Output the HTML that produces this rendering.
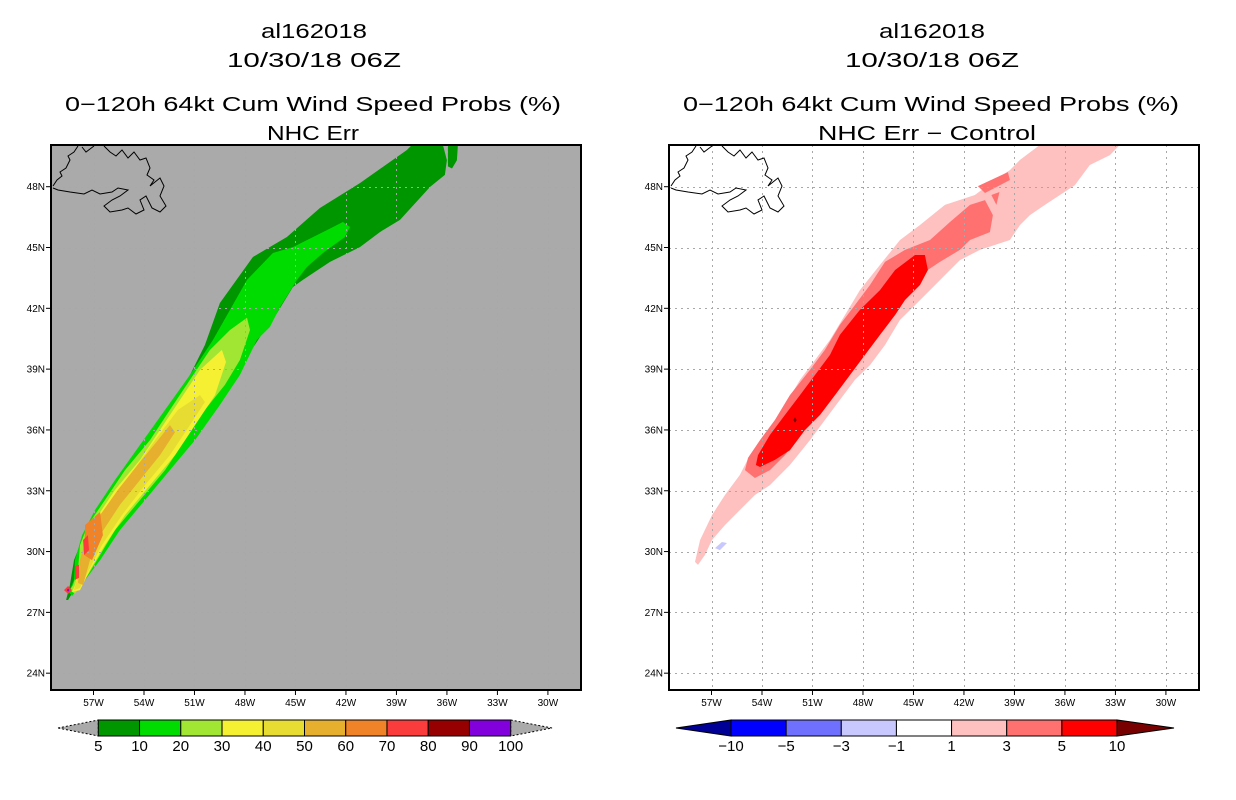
<!DOCTYPE html>
<html><head><meta charset="utf-8"><style>
html,body{margin:0;padding:0;background:#fff;}
svg{display:block;font-family:"Liberation Sans",sans-serif;}
</style></head><body>
<svg id="chart" width="1236" height="800" viewBox="0 0 1236 800" xmlns="http://www.w3.org/2000/svg">
<g id="titles">
<text x="314" y="38" font-size="20" text-anchor="middle" textLength="106" lengthAdjust="spacingAndGlyphs">al162018</text>
<text x="314" y="67" font-size="20" text-anchor="middle" textLength="174" lengthAdjust="spacingAndGlyphs">10/30/18 06Z</text>
<text x="313" y="111" font-size="20" text-anchor="middle" textLength="496" lengthAdjust="spacingAndGlyphs">0−120h 64kt Cum Wind Speed Probs (%)</text>
<text x="313" y="140" font-size="20" text-anchor="middle" textLength="92" lengthAdjust="spacingAndGlyphs">NHC Err</text>
<text x="932" y="38" font-size="20" text-anchor="middle" textLength="106" lengthAdjust="spacingAndGlyphs">al162018</text>
<text x="932" y="67" font-size="20" text-anchor="middle" textLength="174" lengthAdjust="spacingAndGlyphs">10/30/18 06Z</text>
<text x="931" y="111" font-size="20" text-anchor="middle" textLength="496" lengthAdjust="spacingAndGlyphs">0−120h 64kt Cum Wind Speed Probs (%)</text>
<text x="927" y="140" font-size="20" text-anchor="middle" textLength="218" lengthAdjust="spacingAndGlyphs">NHC Err − Control</text>
</g>
</svg>
<script>
// ---- data ----
const latTicks = [48,45,42,39,36,33,30,27,24];
const latLabels = ["48N","45N","42N","39N","36N","33N","30N","27N","24N"];
const lonTicks = [-57,-54,-51,-48,-45,-42,-39,-36,-33,-30];
const lonLabels = ["57W","54W","51W","48W","45W","42W","39W","36W","33W","30W"];

const leftLevels = ["5","10","20","30","40","50","60","70","80","90","100"];
const leftColors = ["#009600","#00dc00","#a0e632","#f5f032","#e6dc32","#e6af2d","#f08228","#fa3c3c","#960000","#8200dc"];
const rightLevels = ["−10","−5","−3","−1","1","3","5","10"];
const rightColors = ["#000096","#0000ff","#7070ff","#c8c8ff","#ffffff","#ffc0c0","#ff7070","#ff0000","#780000"];

// Left panel contour polygons [lon,lat]
const p05 = [[-58.63,27.61],[-58.40,28.35],[-58.16,29.58],[-57.68,30.57],[-56.79,31.80],[-55.72,33.28],[-54.53,34.76],[-53.05,36.49],[-51.86,37.48],[-51.56,38.22],[-50.38,40.19],[-49.49,42.26],[-47.53,44.53],[-45.51,45.52],[-43.55,46.95],[-41.17,48.18],[-38.38,49.81],[-38.08,50.06],[-36.24,50.06],[-36.0,49.31],[-36.12,48.58],[-37.0,47.99],[-38.79,46.36],[-39.98,45.76],[-41.17,45.02],[-42.95,44.29],[-44.56,43.40],[-45.15,43.05],[-46.34,41.43],[-47.11,40.58],[-48.59,38.71],[-50.08,37.23],[-51.56,35.50],[-53.05,34.02],[-54.53,32.54],[-56.02,31.06],[-56.91,29.83],[-57.80,28.60],[-58.51,27.61]];
const p05b = [[-35.94,50.06],[-35.35,50.06],[-35.41,49.3],[-35.7,48.9],[-35.94,49.0]];
const p10 = [[-42.18,46.26],[-41.76,46.01],[-42.06,45.52],[-43.37,44.73],[-44.32,44.04],[-44.91,43.40],[-45.92,42.06],[-46.52,41.08],[-47.29,40.44],[-48.30,38.71],[-49.49,37.23],[-50.97,35.50],[-52.46,34.02],[-53.94,32.54],[-55.43,31.06],[-56.61,29.58],[-57.50,28.60],[-58.28,27.81],[-58.46,28.0],[-58.16,28.60],[-58.10,29.58],[-57.68,30.81],[-56.91,32.05],[-55.72,33.53],[-54.24,35.26],[-52.75,36.99],[-51.27,38.71],[-49.90,40.44],[-47.88,43.40],[-46.34,44.73],[-45.15,45.02],[-43.13,45.86]];
const p20 = [[-47.88,41.53],[-47.70,40.93],[-48.30,39.45],[-49.19,38.22],[-50.38,36.99],[-51.56,35.50],[-52.75,34.02],[-54.24,32.54],[-55.72,31.06],[-56.61,29.83],[-57.33,28.84],[-58.10,27.91],[-58.4,28.1],[-58.22,28.35],[-57.92,29.09],[-57.80,30.32],[-57.33,31.31],[-56.32,32.54],[-55.13,34.02],[-53.64,35.50],[-52.46,36.99],[-51.27,38.47],[-50.08,39.95],[-48.89,40.93]];
const p30 = [[-49.37,39.95],[-49.13,39.35],[-49.78,37.72],[-50.97,36.24],[-52.16,34.76],[-53.64,33.28],[-55.13,31.80],[-56.32,30.32],[-57.21,29.09],[-57.80,28.10],[-58.28,28.0],[-58.10,28.35],[-57.80,29.34],[-57.50,30.57],[-56.91,31.56],[-55.72,33.04],[-54.24,34.52],[-53.05,36.0],[-51.86,37.48],[-50.67,38.96]];
const p40 = [[-50.67,37.72],[-50.38,37.38],[-51.27,36.24],[-52.46,34.76],[-53.94,33.28],[-55.31,31.80],[-56.50,30.32],[-57.33,28.99],[-57.80,28.2],[-58.16,28.1],[-57.92,28.84],[-57.56,30.07],[-56.91,31.31],[-55.72,32.79],[-54.53,34.12],[-53.34,35.50],[-51.98,36.99]];
const p50 = [[-52.46,36.24],[-52.16,35.89],[-53.05,34.76],[-54.24,33.53],[-55.43,32.30],[-56.61,30.81],[-57.21,29.58],[-57.62,28.35],[-57.92,28.45],[-57.80,29.58],[-57.39,30.81],[-56.61,31.80],[-55.55,33.04],[-54.24,34.42],[-53.17,35.50]];
const p60 = [[-57.50,31.31],[-56.61,31.95],[-56.44,30.81],[-57.09,29.58],[-57.56,29.83]];
const p70a = [[-57.62,30.57],[-57.33,30.81],[-57.27,30.07],[-57.56,29.83]];
const p70b = [[-58.10,29.29],[-57.86,29.34],[-57.86,28.70],[-58.10,28.60]];
const p70c = [[-58.51,28.30],[-58.28,28.10],[-58.51,27.91],[-58.75,28.10]];
const p90 = [[-58.51,28.18],[-58.44,28.10],[-58.51,28.02],[-58.58,28.10]];

// Right panel contour polygons [lon,lat]
const r1 = [[-57.98,29.49],[-57.68,30.57],[-56.97,31.80],[-56.20,32.79],[-55.31,33.78],[-54.71,34.76],[-53.53,35.99],[-52.63,37.23],[-51.74,38.47],[-50.85,39.45],[-49.96,40.44],[-49.07,41.67],[-48.18,42.90],[-46.99,44.14],[-45.80,45.37],[-44.61,46.11],[-43.13,47.10],[-41.35,47.59],[-40.16,48.33],[-39.27,48.82],[-38.67,49.32],[-37.49,50.06],[-32.74,50.06],[-33.33,49.56],[-34.52,49.07],[-35.41,48.08],[-36.30,47.59],[-37.19,47.10],[-38.08,46.60],[-38.67,46.11],[-39.27,45.37],[-41.05,44.88],[-42.24,44.38],[-43.13,43.64],[-44.02,42.90],[-44.91,42.16],[-45.80,41.43],[-46.69,40.19],[-47.58,39.20],[-48.48,38.47],[-49.37,37.48],[-50.26,36.49],[-51.15,35.50],[-52.34,34.27],[-53.53,33.28],[-54.42,32.79],[-55.31,32.05],[-56.20,31.31],[-56.97,30.57],[-57.39,29.83],[-57.80,29.34]];
const r3 = [[-55.01,34.02],[-54.83,34.62],[-54.12,35.50],[-53.23,36.49],[-52.34,37.72],[-51.15,38.96],[-50.26,39.95],[-49.37,41.18],[-48.48,42.16],[-47.58,43.15],[-46.69,44.29],[-45.50,44.88],[-44.02,45.37],[-42.83,46.26],[-41.64,47.10],[-40.75,47.34],[-40.28,46.60],[-40.46,45.76],[-41.64,45.37],[-42.24,44.88],[-43.43,44.29],[-44.61,43.64],[-45.50,42.66],[-46.39,41.67],[-47.29,40.69],[-48.18,39.70],[-49.07,38.71],[-49.96,37.72],[-50.85,36.89],[-51.74,35.75],[-52.63,34.76],[-53.53,34.02],[-54.42,33.63]];
const r3b = [[-41.17,48.03],[-39.39,48.72],[-39.27,48.33],[-40.75,47.69]];
const r3c = [[-40.37,47.59],[-39.89,47.74],[-40.07,47.10]];
const r5 = [[-54.36,34.27],[-54.24,34.76],[-53.53,35.75],[-52.63,36.74],[-51.74,37.72],[-50.85,38.71],[-49.96,39.70],[-49.37,40.69],[-48.18,41.92],[-46.99,42.90],[-46.09,43.89],[-44.91,44.63],[-44.32,44.63],[-44.14,43.89],[-44.61,43.15],[-45.50,42.41],[-46.09,41.67],[-46.99,40.69],[-47.88,39.70],[-48.77,38.71],[-49.66,37.72],[-50.55,36.74],[-51.45,35.99],[-52.34,35.0],[-53.23,34.52],[-54.12,34.17]];
const r3d = [[-44.14,45.12],[-43.73,45.37],[-43.61,44.63],[-43.85,44.38]];
const r10 = [[-52.04,36.62],[-51.94,36.49],[-52.04,36.36],[-52.14,36.49]];
const rneg = [[-56.79,30.17],[-56.38,30.47],[-56.08,30.42],[-56.5,30.07]];

// ---- layout ----
const NS = "http://www.w3.org/2000/svg";
const svg = document.getElementById('chart');
const PX0 = 51, PX1 = 581, PY0 = 145, PY1 = 690;
function xScale(lon, off){ return off + 93.5 + (lon + 57) * 16.83; }
function yScale(lat){ return 186.7 + (48 - lat) * 20.27; }
function mk(tag, attrs, parent){ const e = document.createElementNS(NS, tag); for (const k in attrs) e.setAttribute(k, attrs[k]); (parent||svg).appendChild(e); return e; }
function pts(poly, off){ return poly.map(p => xScale(p[0],off).toFixed(1)+','+yScale(p[1]).toFixed(1)).join(' '); }

function panel(off, bg, polys, key){
  const g = mk('g', {});
  
  
  const clipId = 'clip' + key;
  const cp = mk('clipPath', {id: clipId}, g);
  mk('rect', {x: PX0+off, y: PY0, width: PX1-PX0, height: PY1-PY0}, cp);
  const bgr = mk('rect', {x: PX0+off, y: PY0, width: PX1-PX0, height: PY1-PY0, fill: bg}, g);
  
  
  const cg = mk('g', {'clip-path': 'url(#' + clipId + ')'}, g);
  polys.forEach(([poly, col, nm]) => {
    const p = mk('polygon', {points: pts(poly, off), fill: col}, cg);
    
    
  });
  // grid
  const grid = mk('g', {stroke: '#a8a8a8', 'stroke-width': 1, 'stroke-dasharray': '2,4'}, cg);
  
  
  lonTicks.forEach(l => { const x = Math.round(xScale(l, off)) + 0.5; mk('line', {x1: x, y1: PY0, x2: x, y2: PY1}, grid); });
  latTicks.forEach(l => { const y = Math.round(yScale(l)) + 0.5; mk('line', {x1: PX0+off, y1: y, x2: PX1+off, y2: y}, grid); });
  // coastline (Newfoundland)
  const coast = mk('path', {d: 'M53,186 L57,180 L62,176 L60,172 L66,168 L70,160 L68,156 L74,152 L78,146 M82,147 L86,152 L90,149 L94,146 M104,146 L110,152 L116,156 L122,150 L128,158 L134,152 L140,160 L146,158 L150,168 L147,175 L154,180 L150,186 L160,178 L164,186 L160,196 L166,206 L160,212 L152,208 L146,196 L140,200 L144,210 L136,214 L128,208 L122,210 L110,212 L104,206 L112,200 L120,196 L128,190 L118,188 L112,192 L100,194 L92,190 L84,194 L70,192 L58,190 L53,188', fill: 'none', stroke: '#000', 'stroke-width': 1, transform: 'translate(' + off + ',0)'}, cg);
  
  
  // frame
  const fr = mk('rect', {x: PX0+off, y: PY0, width: PX1-PX0, height: PY1-PY0, fill: 'none', stroke: '#000', 'stroke-width': 2}, g);
  
  
  // ticks & labels
  latTicks.forEach((l, i) => {
    const y = yScale(l);
    mk('line', {x1: PX0+off-5, y1: y, x2: PX0+off, y2: y, stroke: '#000'}, g);
    const t = mk('text', {x: PX0+off-6, y: y+3.5, 'font-size': 10, 'text-anchor': 'end'}, g);
    t.textContent = latLabels[i];
    
    
  });
  lonTicks.forEach((l, i) => {
    const x = xScale(l, off);
    mk('line', {x1: x, y1: PY1, x2: x, y2: PY1+5, stroke: '#000'}, g);
    const t = mk('text', {x: x, y: PY1+16, 'font-size': 10, 'text-anchor': 'middle'}, g);
    t.textContent = lonLabels[i];
    
    
  });
}

panel(0, '#aaaaaa', [
  [p05, leftColors[0], 'contour-5'], [p05b, leftColors[0], 'contour-5-sliver'],
  [p10, leftColors[1], 'contour-10'], [p20, leftColors[2], 'contour-20'],
  [p30, leftColors[3], 'contour-30'], [p40, leftColors[4], 'contour-40'],
  [p50, leftColors[5], 'contour-50'], [p60, leftColors[6], 'contour-60'],
  [p70a, leftColors[7], 'contour-70'], [p70b, leftColors[7], 'contour-70'],
  [p70c, leftColors[7], 'contour-70'], [p90, leftColors[9], 'contour-90']
], 'left');

panel(618, '#ffffff', [
  [r1, rightColors[5], 'diff-contour-1'], [rneg, rightColors[3], 'diff-contour-neg1'],
  [r3, rightColors[6], 'diff-contour-3'], [r3b, rightColors[6], 'diff-contour-3'], [r3c, rightColors[6], 'diff-contour-3'],
  [r5, rightColors[7], 'diff-contour-5'], [r3d, rightColors[6], 'diff-contour-3'],
  [r10, rightColors[8], 'diff-contour-10']
], 'right');

// ---- colorbars ----
function colorbar(x0, x1, tipL, tipR, colors, labels, hasEnds, key){
  const g = mk('g', {});
  
  
  const y0 = 720, y1 = 736, ym = 728;
  const n = hasEnds ? colors.length - 2 : colors.length;
  const w = (x1 - x0) / n;
  const lc = hasEnds ? colors[0] : '#aaaaaa';
  const rc = hasEnds ? colors[colors.length-1] : '#aaaaaa';
  mk('polygon', {points: `${tipL},${ym} ${x0},${y0} ${x0},${y1}`, fill: lc, stroke: '#000', 'stroke-width': 1, 'stroke-dasharray': hasEnds ? 'none' : '2,2'}, g);
  mk('polygon', {points: `${tipR},${ym} ${x1},${y0} ${x1},${y1}`, fill: rc, stroke: '#000', 'stroke-width': 1, 'stroke-dasharray': hasEnds ? 'none' : '2,2'}, g);
  for (let i = 0; i < n; i++) {
    const c = hasEnds ? colors[i+1] : colors[i];
    const r = mk('rect', {x: x0 + i*w, y: y0, width: w, height: y1-y0, fill: c, stroke: '#000', 'stroke-width': 1}, g);
    
    
  }
  labels.forEach((lb, i) => {
    const t = mk('text', {x: x0 + i*w, y: 751, 'font-size': 15, 'text-anchor': 'middle'}, g);
    t.textContent = lb;
    
    
  });
}
colorbar(98.3, 510.7, 58, 552, leftColors, leftLevels, false, 'left');
colorbar(731, 1117, 676, 1174, rightColors, rightLevels, true, 'right');
</script>
</body></html>
